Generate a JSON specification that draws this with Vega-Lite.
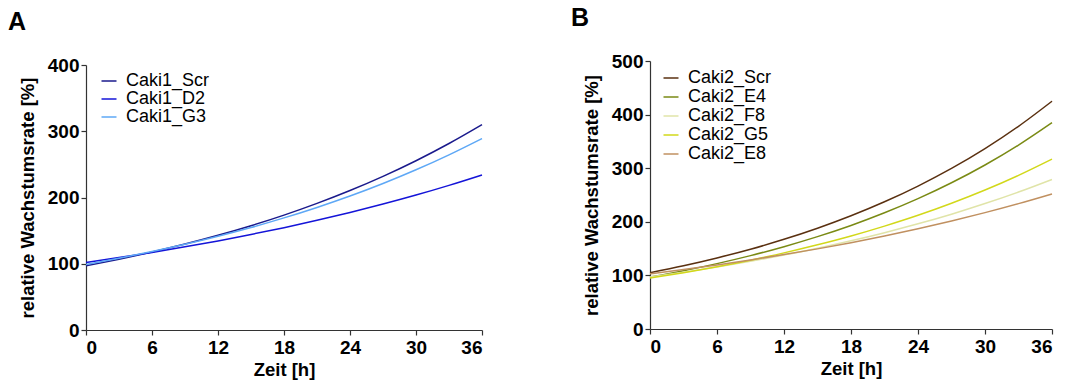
{
  "$schema": "https://vega.github.io/schema/vega-lite/v6.json",
  "background": "white",
  "padding": {"left": 8, "top": 6, "right": 1, "bottom": 3},
  "spacing": 86,
  "config": {
    "font": "Liberation Sans",
    "view": {"stroke": null},
    "axis": {
      "grid": false,
      "domainColor": "#333",
      "domainWidth": 1.2,
      "tickColor": "#333",
      "tickWidth": 1.2,
      "tickSize": 5
    },
    "legend": {
      "labelFont": "Liberation Sans",
      "labelFontSize": 18,
      "labelColor": "black",
      "symbolType": "stroke",
      "symbolSize": 225,
      "symbolStrokeWidth": 1.5,
      "labelOffset": 8,
      "padding": 0
    },
    "title": {
      "font": "Liberation Sans",
      "fontSize": 25,
      "fontWeight": "bold",
      "color": "black",
      "anchor": "start",
      "frame": "group"
    }
  },
  "datasets": {
    "caki1": [
      {"sample": "Caki1_Scr", "t": 0, "v": 97}, {"sample": "Caki1_Scr", "t": 3, "v": 106.9}, {"sample": "Caki1_Scr", "t": 6, "v": 117.7}, {"sample": "Caki1_Scr", "t": 9, "v": 129.7}, {"sample": "Caki1_Scr", "t": 12, "v": 142.9}, {"sample": "Caki1_Scr", "t": 15, "v": 157.4}, {"sample": "Caki1_Scr", "t": 18, "v": 173.4}, {"sample": "Caki1_Scr", "t": 21, "v": 191.1}, {"sample": "Caki1_Scr", "t": 24, "v": 210.5}, {"sample": "Caki1_Scr", "t": 27, "v": 231.9}, {"sample": "Caki1_Scr", "t": 30, "v": 255.5}, {"sample": "Caki1_Scr", "t": 33, "v": 281.5}, {"sample": "Caki1_Scr", "t": 36, "v": 310},
      {"sample": "Caki1_D2", "t": 0, "v": 102}, {"sample": "Caki1_D2", "t": 3, "v": 109.3}, {"sample": "Caki1_D2", "t": 6, "v": 117.1}, {"sample": "Caki1_D2", "t": 9, "v": 125.5}, {"sample": "Caki1_D2", "t": 12, "v": 134.5}, {"sample": "Caki1_D2", "t": 15, "v": 144.2}, {"sample": "Caki1_D2", "t": 18, "v": 154.5}, {"sample": "Caki1_D2", "t": 21, "v": 165.6}, {"sample": "Caki1_D2", "t": 24, "v": 177.4}, {"sample": "Caki1_D2", "t": 27, "v": 190.1}, {"sample": "Caki1_D2", "t": 30, "v": 203.7}, {"sample": "Caki1_D2", "t": 33, "v": 218.3}, {"sample": "Caki1_D2", "t": 36, "v": 234},
      {"sample": "Caki1_G3", "t": 0, "v": 99}, {"sample": "Caki1_G3", "t": 3, "v": 108.3}, {"sample": "Caki1_G3", "t": 6, "v": 118.4}, {"sample": "Caki1_G3", "t": 9, "v": 129.4}, {"sample": "Caki1_G3", "t": 12, "v": 141.5}, {"sample": "Caki1_G3", "t": 15, "v": 154.7}, {"sample": "Caki1_G3", "t": 18, "v": 169.2}, {"sample": "Caki1_G3", "t": 21, "v": 185}, {"sample": "Caki1_G3", "t": 24, "v": 202.2}, {"sample": "Caki1_G3", "t": 27, "v": 221.1}, {"sample": "Caki1_G3", "t": 30, "v": 241.8}, {"sample": "Caki1_G3", "t": 33, "v": 264.4}, {"sample": "Caki1_G3", "t": 36, "v": 289}
    ],
    "caki2": [
      {"sample": "Caki2_Scr", "t": 0, "v": 105}, {"sample": "Caki2_Scr", "t": 3, "v": 118}, {"sample": "Caki2_Scr", "t": 6, "v": 132.6}, {"sample": "Caki2_Scr", "t": 9, "v": 148.9}, {"sample": "Caki2_Scr", "t": 12, "v": 167.3}, {"sample": "Caki2_Scr", "t": 15, "v": 188}, {"sample": "Caki2_Scr", "t": 18, "v": 211.2}, {"sample": "Caki2_Scr", "t": 21, "v": 237.3}, {"sample": "Caki2_Scr", "t": 24, "v": 266.7}, {"sample": "Caki2_Scr", "t": 27, "v": 299.6}, {"sample": "Caki2_Scr", "t": 30, "v": 336.6}, {"sample": "Caki2_Scr", "t": 33, "v": 378.2}, {"sample": "Caki2_Scr", "t": 36, "v": 425},
      {"sample": "Caki2_E4", "t": 0, "v": 97}, {"sample": "Caki2_E4", "t": 3, "v": 108.8}, {"sample": "Caki2_E4", "t": 6, "v": 122}, {"sample": "Caki2_E4", "t": 9, "v": 136.9}, {"sample": "Caki2_E4", "t": 12, "v": 153.6}, {"sample": "Caki2_E4", "t": 15, "v": 172.3}, {"sample": "Caki2_E4", "t": 18, "v": 193.2}, {"sample": "Caki2_E4", "t": 21, "v": 216.8}, {"sample": "Caki2_E4", "t": 24, "v": 243.2}, {"sample": "Caki2_E4", "t": 27, "v": 272.8}, {"sample": "Caki2_E4", "t": 30, "v": 306}, {"sample": "Caki2_E4", "t": 33, "v": 343.2}, {"sample": "Caki2_E4", "t": 36, "v": 385},
      {"sample": "Caki2_F8", "t": 0, "v": 97}, {"sample": "Caki2_F8", "t": 3, "v": 105.9}, {"sample": "Caki2_F8", "t": 6, "v": 115.7}, {"sample": "Caki2_F8", "t": 9, "v": 126.3}, {"sample": "Caki2_F8", "t": 12, "v": 138}, {"sample": "Caki2_F8", "t": 15, "v": 150.6}, {"sample": "Caki2_F8", "t": 18, "v": 164.5}, {"sample": "Caki2_F8", "t": 21, "v": 179.7}, {"sample": "Caki2_F8", "t": 24, "v": 196.2}, {"sample": "Caki2_F8", "t": 27, "v": 214.2}, {"sample": "Caki2_F8", "t": 30, "v": 234}, {"sample": "Caki2_F8", "t": 33, "v": 255.5}, {"sample": "Caki2_F8", "t": 36, "v": 279},
      {"sample": "Caki2_G5", "t": 0, "v": 95}, {"sample": "Caki2_G5", "t": 3, "v": 105}, {"sample": "Caki2_G5", "t": 6, "v": 116.1}, {"sample": "Caki2_G5", "t": 9, "v": 128.4}, {"sample": "Caki2_G5", "t": 12, "v": 142}, {"sample": "Caki2_G5", "t": 15, "v": 157}, {"sample": "Caki2_G5", "t": 18, "v": 173.5}, {"sample": "Caki2_G5", "t": 21, "v": 191.9}, {"sample": "Caki2_G5", "t": 24, "v": 212.1}, {"sample": "Caki2_G5", "t": 27, "v": 234.6}, {"sample": "Caki2_G5", "t": 30, "v": 259.3}, {"sample": "Caki2_G5", "t": 33, "v": 286.7}, {"sample": "Caki2_G5", "t": 36, "v": 317},
      {"sample": "Caki2_E8", "t": 0, "v": 103}, {"sample": "Caki2_E8", "t": 3, "v": 111}, {"sample": "Caki2_E8", "t": 6, "v": 119.6}, {"sample": "Caki2_E8", "t": 9, "v": 128.8}, {"sample": "Caki2_E8", "t": 12, "v": 138.8}, {"sample": "Caki2_E8", "t": 15, "v": 149.5}, {"sample": "Caki2_E8", "t": 18, "v": 161.1}, {"sample": "Caki2_E8", "t": 21, "v": 173.6}, {"sample": "Caki2_E8", "t": 24, "v": 187}, {"sample": "Caki2_E8", "t": 27, "v": 201.5}, {"sample": "Caki2_E8", "t": 30, "v": 217.1}, {"sample": "Caki2_E8", "t": 33, "v": 233.9}, {"sample": "Caki2_E8", "t": 36, "v": 252}
    ]
  },
  "resolve": {"scale": {"color": "independent", "x": "independent", "y": "independent"}, "legend": {"color": "independent"}},
  "hconcat": [
    {
      "width": 396,
      "height": 269,
      "title": {"text": "A", "dx": -78, "offset": 21},
      "data": {"name": "caki1"},
      "mark": {"type": "line", "interpolate": "monotone", "strokeWidth": 1.5},
      "encoding": {
        "x": {"field": "t", "type": "quantitative", "title": "Zeit [h]",
              "scale": {"domain": [0, 36], "nice": false},
              "axis": {"values": [0, 6, 12, 18, 24, 30, 36], "titlePadding": 3,
                       "labelFont": "Liberation Sans", "labelFontWeight": "bold", "labelFontSize": 19, "labelColor": "black", "labelPadding": 3,
                       "titleFont": "Liberation Sans", "titleFontWeight": "bold", "titleFontSize": 18.5, "titleColor": "black"}},
        "y": {"field": "v", "type": "quantitative", "title": "relative Wachstumsrate [%]",
              "scale": {"domain": [0, 400], "nice": false, "range": [269, 4]},
              "axis": {"values": [0, 100, 200, 300, 400], "titlePadding": 10,
                       "labelFont": "Liberation Sans", "labelFontWeight": "bold", "labelFontSize": 19, "labelColor": "black", "labelPadding": 2,
                       "titleFont": "Liberation Sans", "titleFontWeight": "bold", "titleFontSize": 18.5, "titleColor": "black"}},
        "color": {"field": "sample", "type": "nominal",
                  "scale": {"domain": ["Caki1_Scr", "Caki1_D2", "Caki1_G3"], "range": ["#1a1a8c", "#1414d8", "#5ea8f6"]},
                  "legend": {"title": null, "orient": "none", "legendX": 14, "legendY": 11, "rowPadding": 0}}
      }
    },
    {
      "width": 402,
      "height": 268,
      "title": {"text": "B", "dx": -79, "offset": 21},
      "data": {"name": "caki2"},
      "mark": {"type": "line", "interpolate": "monotone", "strokeWidth": 1.5},
      "encoding": {
        "x": {"field": "t", "type": "quantitative", "title": "Zeit [h]",
              "scale": {"domain": [0, 36], "nice": false},
              "axis": {"values": [0, 6, 12, 18, 24, 30, 36], "titlePadding": 3,
                       "labelFont": "Liberation Sans", "labelFontWeight": "bold", "labelFontSize": 19, "labelColor": "black", "labelPadding": 3,
                       "titleFont": "Liberation Sans", "titleFontWeight": "bold", "titleFontSize": 18.5, "titleColor": "black"}},
        "y": {"field": "v", "type": "quantitative", "title": "relative Wachstumsrate [%]",
              "scale": {"domain": [0, 500], "nice": false},
              "axis": {"values": [0, 100, 200, 300, 400, 500], "titlePadding": 10,
                       "labelFont": "Liberation Sans", "labelFontWeight": "bold", "labelFontSize": 19, "labelColor": "black", "labelPadding": 2,
                       "titleFont": "Liberation Sans", "titleFontWeight": "bold", "titleFontSize": 18.5, "titleColor": "black"}},
        "color": {"field": "sample", "type": "nominal",
                  "scale": {"domain": ["Caki2_Scr", "Caki2_E4", "Caki2_F8", "Caki2_G5", "Caki2_E8"], "range": ["#5a3010", "#7a8a14", "#e0e4a8", "#d2d81a", "#c09060"]},
                  "legend": {"title": null, "orient": "none", "legendX": 12, "legendY": 8, "rowPadding": 1}}
      }
    }
  ]
}
